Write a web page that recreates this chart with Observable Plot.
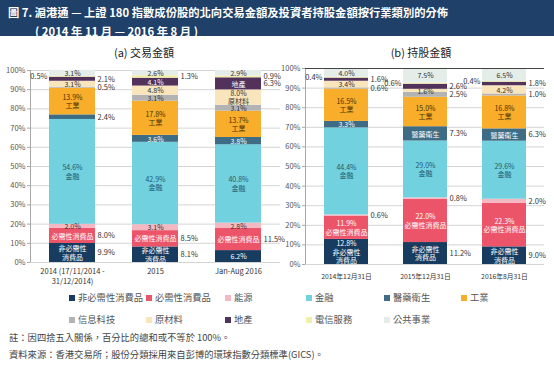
<!DOCTYPE html>
<html><head><meta charset="utf-8">
<script src="https://cdn.jsdelivr.net/npm/d3@7"></script>
<script src="https://cdn.jsdelivr.net/npm/@observablehq/plot@0.6"></script>
<style>
body{margin:0;width:554px;height:369px;position:relative;overflow:hidden;background:#fff;font-family:"Noto Sans CJK TC","Noto Sans",sans-serif;}
#banner{position:absolute;left:0;top:0;width:554px;height:36px;background:#1f4068;color:#fff;font-weight:bold;font-size:11.3px;}
#banner div{position:absolute;white-space:nowrap;line-height:14px;}
.sub{position:absolute;font-size:11px;color:#222;white-space:nowrap;line-height:14px;transform:translateX(-50%);}
.panel{position:absolute;}
.lg{position:absolute;font-size:9.3px;color:#555;white-space:nowrap;line-height:12px;}
.lg i{display:inline-block;width:6px;height:6px;margin-right:3px;vertical-align:0px;}
.note{position:absolute;left:9px;font-size:9.3px;color:#444;white-space:nowrap;line-height:12px;}
</style></head><body>
<div id="banner">
 <div style="left:8px;top:5px">圖 7. 滬港通 — 上證 180 指數成份股的北向交易金額及投資者持股金額按行業類別的分佈</div>
 <div style="left:35px;top:24px">( 2014 年 11 月 — 2016 年 8 月 )</div>
</div>
<div class="sub" style="left:144px;top:45px">(a) 交易金額</div>
<div class="sub" style="left:421px;top:45px">(b) 持股金額</div>
<div id="pa" class="panel" style="left:0px;top:60px"></div>
<div id="pb" class="panel" style="left:280px;top:58px"></div>
<div id="legend"></div>
<div class="note" style="top:331px">註：因四捨五入關係，百分比的總和或不等於 100%。</div>
<div class="note" style="top:348px">資料來源：香港交易所；股份分類採用來自彭博的環球指數分類標準(GICS)。</div>
<script>
// ---- data ----
const sectors = ["非必需性消費品","必需性消費品","能源","金融","醫藥衛生","工業","信息科技","原材料","地產","電信服務","公共事業"];
const tradeCategories = ["2014 (17/11/2014 -\n31/12/2014)", "2015", "Jan-Aug 2016"];
const trade2014 = [9.9, 8.0, 2.0, 54.6, 2.4, 13.9, 0.5, 3.1, 2.1, 0.5, 3.1];
const trade2015 = [8.1, 8.5, 3.1, 42.9, 3.6, 17.8, 3.1, 4.8, 4.1, 1.3, 2.6];
const trade2016 = [6.2, 11.5, 2.8, 40.8, 3.8, 13.7, 3.1, 8.0, 6.3, 0.9, 2.9];
const holdCategories = ["2014年12月31日", "2015年12月31日", "2016年8月31日"];
const hold2014 = [12.8, 11.9, 0.6, 44.4, 3.3, 16.5, 0.6, 3.4, 1.6, 0.4, 4.0];
const hold2015 = [11.2, 22.0, 0.8, 29.0, 7.3, 15.0, 2.5, 1.6, 2.6, 0.6, 7.5];
const hold2016 = [9.0, 22.3, 2.0, 29.6, 6.3, 16.8, 1.0, 4.2, 1.8, 0.4, 6.5];
const yTicks = [0,10,20,30,40,50,60,70,80,90,100];

// ---- styles / label placement ----
const colors = ["#173c5f","#ec5569","#f4b8c2","#72d1de","#3e6c85","#f8ad2b","#b3b3b3","#f8e5bb","#52325b","#f2efaa","#e4ede7"];
const insideFill = ["#fff","#fff","#333","#1e5a72","#fff","#4a3200","#333","#333","#fff","#333","#333"];
const nameText = ["非必需性\n消費品","必需性消費品","能源","金融","醫藥衛生","工業","信息科技","原材料","地產","電信服務","公共事業"];
const tradePos = [
  ["R","R","I","I","R","I","R","I","R","L","I"],
  ["R","R","I","I","I","I","I","I","I","R","I"],
  ["I","R","I","I","I","I","I","I","R","R","I"]];
const tradeNames = [
  [1,1,0,1,0,1,0,0,0,0,0],
  [1,1,0,1,0,1,0,0,0,0,0],
  [0,1,0,1,0,1,0,1,1,0,0]];
const holdPos = [
  ["I","I","R","I","I","I","R","I","R","L","I"],
  ["R","I","R","I","R","I","R","I","R","L","I"],
  ["R","I","R","I","R","I","R","I","R","L","I"]];
const holdNames = [
  [1,1,0,1,0,1,0,0,0,0,0],
  [1,1,0,1,1,1,0,0,0,0,0],
  [1,1,0,1,1,1,0,0,0,0,0]];

const fmt = v => v.toFixed(1) + "%";

function panel(cats, series, pos, names, o) {
  const rows = [];
  cats.forEach((c, i) => {
    let acc = 0;
    series[i].forEach((v, j) => {
      rows.push({cat: c, sector: sectors[j], j, v, y1: acc, y2: acc + v, mid: acc + v / 2, pos: pos[i][j], name: names[i][j]});
      acc += v;
    });
  });
  const inside = rows.filter(d => d.pos === "I" || d.name).map(d => {
    const parts = [];
    if (d.pos === "I") parts.push(fmt(d.v));
    if (d.name) parts.push(nameText[d.j]);
    return {...d, label: parts.join("\n")};
  });
  const fillGroups = Array.from(new Set(insideFill));
  const textMarks = fillGroups.map(c => Plot.text(inside.filter(d => insideFill[d.j] === c), {
    x: "cat", y: "mid", text: "label", fill: c, fontSize: 7, lineAnchor: "middle", lineHeight: 1.2
  }));
  const axisLine = (index, scales, values, dims) => {
    const g = d3.create("svg:g");
    g.append("line").attr("x1", dims.marginLeft + 0.5).attr("x2", dims.marginLeft + 0.5)
      .attr("y1", dims.marginTop).attr("y2", dims.height - dims.marginBottom).attr("stroke", "#a8a8a8");
    if (o.topRule) g.append("line").attr("x1", dims.marginLeft).attr("x2", dims.width - dims.marginRight)
      .attr("y1", dims.marginTop + 0.5).attr("y2", dims.marginTop + 0.5).attr("stroke", "#444").attr("stroke-width", 1.2);
    return g.node();
  };
  return Plot.plot({
    width: o.width, height: o.height,
    marginLeft: o.ml, marginRight: o.mr, marginTop: o.mt, marginBottom: o.mb,
    style: {fontFamily: '"Noto Sans CJK TC","Noto Sans",sans-serif', fontSize: "7.5px", color: "#555", background: "transparent", overflow: "visible"},
    x: {domain: cats, paddingInner: o.pi, paddingOuter: o.po, axis: null},
    y: {domain: [0, 100], axis: null},
    color: {domain: sectors, range: colors},
    marks: [
      Plot.gridY(yTicks, {stroke: "#d4d4d4", strokeOpacity: 1}),
      Plot.axisY(yTicks, {tickFormat: d => d + "%", tickSize: 3, tickPadding: 2, stroke: "#a8a8a8", fill: "#555", fontSize: 7.5}),
      Plot.axisX({tickSize: 0, tickPadding: o.xpad, fontSize: o.xfs, fill: "#333", label: null, lineHeight: 1.25}),
      Plot.barY(rows, {x: "cat", y1: "y1", y2: "y2", fill: "sector"}),
      axisLine,
      ...textMarks,
      Plot.text(rows.filter(d => d.pos === "R"), {x: "cat", y: "mid", text: d => fmt(d.v), dx: o.dx, textAnchor: "start", fill: "#333", fontSize: 7.5}),
      Plot.text(rows.filter(d => d.pos === "L"), {x: "cat", y: "mid", text: d => fmt(d.v), dx: -o.dx, textAnchor: "end", fill: "#333", fontSize: 7.5})
    ]
  });
}

document.getElementById("pa").append(panel(tradeCategories, [trade2014, trade2015, trade2016], tradePos, tradeNames,
  {width: 280, height: 235, ml: 30, mr: 0, mt: 10, mb: 33, pi: 0.446, po: 0.229, dx: 25, xpad: 5, xfs: 7.5}));
document.getElementById("pb").append(panel(holdCategories, [hold2014, hold2015, hold2016], holdPos, holdNames,
  {width: 274, height: 237, ml: 25, mr: 10, mt: 10, mb: 31, pi: 0.445, po: 0.227, dx: 24, xpad: 8, xfs: 6.8, topRule: true}));

// legend
const lgX = [69, 146, 225, 306, 384, 461];
const lg = document.getElementById("legend");
sectors.forEach((s, k) => {
  const row = k < 6 ? 0 : 1, col = k < 6 ? k : k - 6;
  const d = document.createElement("div");
  d.className = "lg";
  d.style.left = lgX[col] + "px";
  d.style.top = (row ? 313 : 291) + "px";
  d.innerHTML = `<i style="background:${colors[k]}"></i>${s}`;
  lg.append(d);
});
</script>
</body></html>
